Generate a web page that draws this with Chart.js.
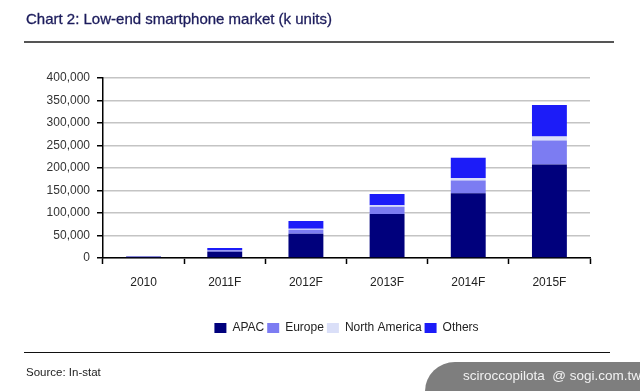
<!DOCTYPE html>
<html>
<head>
<meta charset="utf-8">
<script src="https://cdn.jsdelivr.net/npm/chart.js@4/dist/chart.umd.min.js"></script>
<style>
  html, body { margin: 0; padding: 0; background: #fff; }
  #wrap { position: relative; width: 640px; height: 391px; overflow: hidden; font-family: 'Liberation Sans', Arial, sans-serif; }
  #chart { position: absolute; left: 0; top: 0; }
  .title { position: absolute; left: 26px; top: 10px; font-size: 15px; color: #1c1c5c; white-space: nowrap; -webkit-text-stroke: 0.3px #1c1c5c; }
  .rule-top { position: absolute; left: 24px; top: 41px; width: 590px; height: 2px; background: #555; }
  .rule-bottom { position: absolute; left: 24px; top: 352px; width: 586px; height: 1px; background: #111; }
  .source { position: absolute; left: 26px; top: 366px; font-size: 11.5px; color: #222; }
  .mark { position: absolute; left: 425px; top: 362px; width: 215px; height: 29px; background: #7e7e7e; border-top-left-radius: 30px 29px; }
  .mark span { position: absolute; left: 38px; top: 6px; font-size: 13.5px; color: #f2f2f2; white-space: nowrap; }
</style>
</head>
<body>
<div id="wrap">
  <canvas id="chart" width="640" height="391"></canvas>
  <div class="title">Chart 2: Low-end smartphone market (k units)</div>
  <div class="rule-top"></div>
  <div class="rule-bottom"></div>
  <div class="source">Source: In-stat</div>
  <div class="mark"><span>sciroccopilota&nbsp; @ sogi.com.tw</span></div>
</div>
<script>
const years = ['2010', '2011F', '2012F', '2013F', '2014F', '2015F'];
const apac = [3000, 14000, 54000, 98000, 144000, 208000];
const europe = [300, 3000, 9000, 16000, 28000, 53000];
const northAmerica = [100, 1000, 2000, 3000, 6000, 9000];
const others = [500, 4000, 17000, 25000, 45000, 70000];
const yMax = 400000;
const yStep = 50000;

const ctx = document.getElementById('chart').getContext('2d');

function ds(label, data, color) {
    return { label: label, data: data, backgroundColor: color, borderWidth: 0, barPercentage: 0.43, categoryPercentage: 1 };
}

// centre the legend under the plot area instead of the whole canvas
const legendUnderPlot = {
    id: 'legendUnderPlot',
    afterLayout: function (chart) {
        const lg = chart.legend;
        if (!lg) return;
        lg.left = chart.chartArea.left;
        lg.right = chart.chartArea.right;
        lg.width = lg.right - lg.left;
    }
};

new Chart(ctx, {
    type: 'bar',
    data: {
        labels: years,
        datasets: [
            ds('APAC', apac, '#00007c'),
            ds('Europe', europe, '#7c7cf2'),
            ds('North America', northAmerica, '#dadff8'),
            ds('Others', others, '#1c1cf8')
        ]
    },
    plugins: [legendUnderPlot],
    options: {
        responsive: false,
        animation: false,
        layout: { padding: { left: 0, right: 50, top: 78, bottom: 47 } },
        plugins: {
            legend: {
                position: 'bottom',
                labels: { boxWidth: 12, boxHeight: 10, padding: 3, color: '#222', font: { family: "'Liberation Sans', Arial", size: 12 } }
            },
            tooltip: { enabled: false }
        },
        scales: {
            x: {
                stacked: true,
                afterFit: function (s) { s.height = 61; },
                grid: { offset: true, drawOnChartArea: false, drawTicks: true, tickLength: 6, tickColor: '#000', tickWidth: 1.5 },
                border: { color: '#000', width: 1.5 },
                ticks: { color: '#222', padding: 11, font: { family: "'Liberation Sans', Arial", size: 12 } }
            },
            y: {
                stacked: true,
                min: 0,
                max: yMax,
                afterFit: function (s) { s.width = 103; },
                grid: { color: '#c4c4c4', lineWidth: 1.5, tickLength: 6, tickColor: '#000', tickWidth: 1.5 },
                border: { color: '#000', width: 1.5 },
                ticks: {
                    stepSize: yStep,
                    padding: 7,
                    color: '#333',
                    font: { family: "'Liberation Sans', Arial", size: 12 },
                    callback: function (v) { return v.toLocaleString('en-US'); }
                }
            }
        }
    }
});
</script>
</body>
</html>
